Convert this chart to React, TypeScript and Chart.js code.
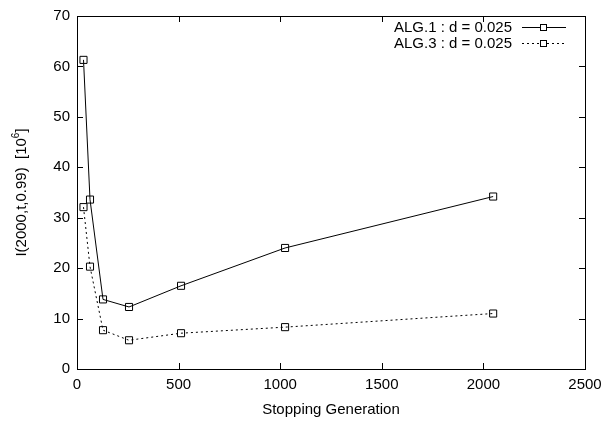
import React, { useEffect, useRef } from "react";
import { Chart, registerables } from "chart.js";

Chart.register(...registerables);

const generations = [32, 64, 128, 256, 512, 1024, 2048];
const alg1Values = [61.3, 33.6, 13.8, 12.3, 16.5, 24.0, 34.2];
const alg3Values = [32.1, 20.3, 7.7, 5.7, 7.1, 8.3, 11.0];
const seriesLabels = ["ALG.1 : d = 0.025", "ALG.3 : d = 0.025"];
const xTitle = "Stopping Generation";
const yTitleMain = "I(2000,t,0.99)  [10";
const yTitleSup = "6";
const yTitleEnd = "]";

const FONT = "Liberation Sans, Arial, Helvetica, sans-serif";
const FS = 15;

const framePlugin = {
  id: "gnuframe",
  afterDraw(chart: any) {
    const ctx = chart.ctx;
    const a = chart.chartArea;
    const xs = chart.scales.x;
    const ys = chart.scales.y;
    ctx.save();
    ctx.strokeStyle = "#000";
    ctx.lineWidth = 1;
    ctx.setLineDash([]);
    ctx.strokeRect(Math.round(a.left) + 0.5, Math.round(a.top) + 0.5, Math.round(a.right - a.left), Math.round(a.bottom - a.top));
    const tl = 6;
    ctx.beginPath();
    xs.ticks.forEach((t: any) => {
      const px = Math.round(xs.getPixelForValue(t.value)) + 0.5;
      ctx.moveTo(px, a.bottom);
      ctx.lineTo(px, a.bottom - tl);
      ctx.moveTo(px, a.top);
      ctx.lineTo(px, a.top + tl);
    });
    ys.ticks.forEach((t: any) => {
      const py = Math.round(ys.getPixelForValue(t.value)) + 0.5;
      ctx.moveTo(a.left, py);
      ctx.lineTo(a.left + tl, py);
      ctx.moveTo(a.right, py);
      ctx.lineTo(a.right - tl, py);
    });
    ctx.stroke();

    // legend
    ctx.font = FS + "px " + FONT;
    ctx.fillStyle = "#000";
    ctx.textAlign = "right";
    ctx.textBaseline = "middle";
    const dashes = [[], [2, 3]];
    seriesLabels.forEach((lab, i) => {
      const y = 27 + i * 15.5;
      ctx.fillText(lab, 512, y + 1);
      ctx.setLineDash(dashes[i]);
      ctx.beginPath();
      ctx.moveTo(522, Math.round(y) + 0.5);
      ctx.lineTo(566, Math.round(y) + 0.5);
      ctx.stroke();
      ctx.setLineDash([]);
      ctx.fillStyle = "#fff";
      ctx.fillRect(540, Math.round(y) - 3, 7, 7);
      ctx.fillStyle = "#000";
      ctx.strokeRect(540.5, Math.round(y) - 3 + 0.5, 6, 6);
    });

    // x title
    ctx.textAlign = "center";
    ctx.textBaseline = "middle";
    ctx.fillText(xTitle, (a.left + a.right) / 2, 410);

    // y title
    ctx.save();
    ctx.translate(22, (a.top + a.bottom) / 2);
    ctx.rotate(-Math.PI / 2);
    ctx.font = FS + "px " + FONT;
    const w1 = ctx.measureText(yTitleMain).width;
    ctx.font = "10px " + FONT;
    const w2 = ctx.measureText(yTitleSup).width;
    ctx.font = FS + "px " + FONT;
    const w3 = ctx.measureText(yTitleEnd).width;
    const total = w1 + w2 + w3;
    let x0 = -total / 2;
    ctx.textAlign = "left";
    ctx.textBaseline = "middle";
    ctx.fillText(yTitleMain, x0, 0);
    x0 += w1;
    ctx.font = "10px " + FONT;
    ctx.fillText(yTitleSup, x0, -6);
    x0 += w2;
    ctx.font = FS + "px " + FONT;
    ctx.fillText(yTitleEnd, x0, 0);
    ctx.restore();

    ctx.restore();
  },
};

export default function App() {
  const ref = useRef<HTMLCanvasElement>(null);
  useEffect(() => {
    if (!ref.current) return;
    const mk = (vals: number[]) => generations.map((g, i) => ({ x: g, y: vals[i] }));
    const common = {
      borderColor: "#000",
      borderWidth: 1,
      pointStyle: "rect",
      pointRadius: 5,
      pointBorderWidth: 1,
      pointBorderColor: "#000",
      pointBackgroundColor: "rgba(255,255,255,0)",
      tension: 0,
    };
    const chart = new Chart(ref.current, {
      type: "line",
      data: {
        datasets: [
          { label: seriesLabels[0], data: mk(alg1Values), ...common },
          { label: seriesLabels[1], data: mk(alg3Values), borderDash: [2, 3], ...common },
        ],
      },
      options: {
        responsive: false,
        animation: false,
        layout: { padding: { left: 0, top: 12, right: 24, bottom: 0 } },
        plugins: { legend: { display: false }, tooltip: { enabled: false } },
        scales: {
          x: {
            type: "linear",
            min: 0,
            max: 2500,
            grid: { display: false, drawTicks: false },
            border: { display: false },
            ticks: {
              stepSize: 500,
              padding: 7,
              color: "#000",
              font: { family: FONT, size: FS },
              maxRotation: 0,
              callback: (v: any) => String(v),
            },
            afterFit: (s: any) => { s.height = 58; },
          },
          y: {
            type: "linear",
            min: 0,
            max: 70,
            grid: { display: false, drawTicks: false },
            border: { display: false },
            ticks: {
              stepSize: 10,
              padding: 7,
              color: "#000",
              font: { family: FONT, size: FS },
              callback: (v: any) => String(v),
            },
            afterFit: (s: any) => { s.width = 77; },
          },
        },
      },
      plugins: [framePlugin],
    });
    return () => chart.destroy();
  }, []);
  return (
    <div style={{ position: "fixed", left: 0, top: 0, width: 609, height: 427, background: "#fff" }}>
      <canvas ref={ref} width={609} height={427} style={{ display: "block" }} />
    </div>
  );
}
